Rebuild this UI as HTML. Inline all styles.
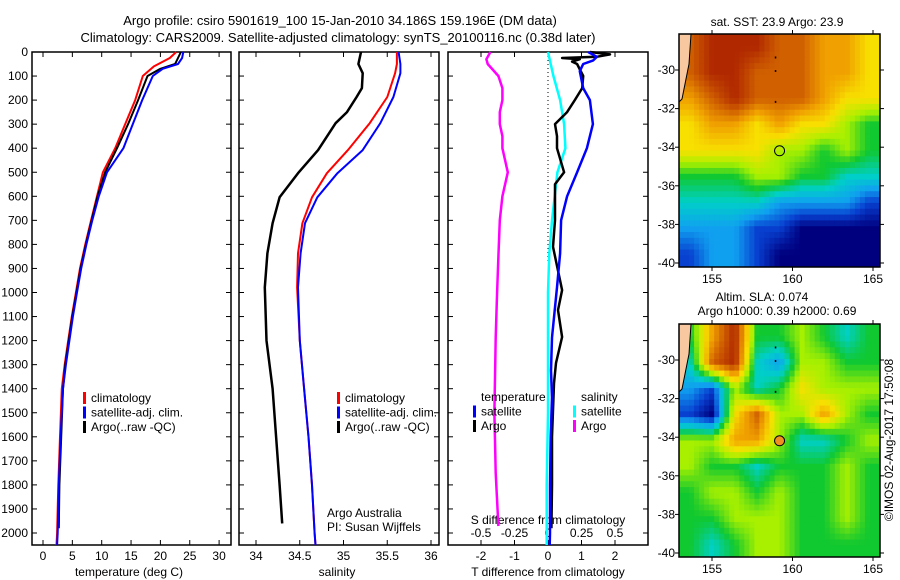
<!DOCTYPE html>
<html><head><meta charset="utf-8"><style>
html,body{margin:0;padding:0;background:#fff;}
svg{display:block;font-family:"Liberation Sans",sans-serif;}
text{fill:#000;}
</style></head><body>
<svg id="fig" width="900" height="580" viewBox="0 0 900 580" xmlns="http://www.w3.org/2000/svg">
<text x="340" y="25" font-size="13" text-anchor="middle">Argo profile: csiro 5901619_100 15-Jan-2010 34.186S 159.196E (DM data)</text>
<text x="338" y="42" font-size="13" text-anchor="middle">Climatology: CARS2009. Satellite-adjusted climatology: synTS_20100116.nc (0.38d later)</text>
<g id="plots"></g>
</svg>
<script>
// ---------- Profile data ----------
const depthTicks = [0,100,200,300,400,500,600,700,800,900,1000,1100,1200,1300,1400,1500,1600,1700,1800,1900,2000];
const tempTicks = [0,5,10,15,20,25,30];
const salTicks = [34,34.5,35,35.5,36];
const tdiffTicks = [-2,-1,0,1,2];
const sdiffTicks = [-0.5,-0.25,0,0.25,0.5];

const tClimDepth = [0,25,60,100,200,300,400,500,600,700,800,900,1000,1100,1200,1300,1400,1600,1800,2000,2050];
const tClimVal   = [22.7,21.6,18.9,17.0,15.7,14.0,12.3,10.2,9.2,8.2,7.2,6.3,5.6,4.9,4.3,3.7,3.2,2.9,2.6,2.4,2.3];
const tSatDepth  = [0,25,50,70,100,200,300,400,500,600,700,800,900,1000,1100,1200,1300,1400,1600,1800,2000,2050];
const tSatVal    = [23.9,23.7,23.0,20.4,18.7,16.9,15.3,13.7,10.9,9.5,8.4,7.4,6.5,5.8,5.1,4.5,3.9,3.4,3.0,2.7,2.5,2.4];
const tArgoDepth = [0,50,70,100,200,300,400,500,600,700,800,900,1000,1100,1200,1300,1400,1600,1800,1980];
const tArgoVal   = [23.5,22.5,20.0,17.8,16.2,14.5,12.6,10.6,9.3,8.3,7.3,6.4,5.7,5.0,4.4,3.8,3.4,3.1,2.8,2.7];

const sClimDepth = [0,50,88,187,296,408,504,604,712,837,979,1200,1400,1600,1800,2000,2050];
const sClimVal   = [35.61,35.61,35.59,35.50,35.30,35.05,34.81,34.64,34.53,34.48,34.47,34.50,34.55,34.60,34.64,34.67,34.68];
const sSatDepth  = [0,50,88,187,296,408,504,604,712,837,979,1200,1400,1600,1800,2000,2050];
const sSatVal    = [35.63,35.65,35.65,35.57,35.42,35.22,34.93,34.70,34.56,34.51,34.48,34.50,34.55,34.60,34.64,34.67,34.68];
const sArgoDepth = [0,50,88,150,187,250,296,408,504,604,712,837,979,1200,1400,1600,1800,1960];
const sArgoVal   = [35.20,35.17,35.22,35.21,35.15,35.04,34.91,34.71,34.48,34.27,34.19,34.13,34.10,34.12,34.19,34.23,34.27,34.30];

const dtSatDepth = [0,20,35,50,80,150,200,300,400,500,600,700,838,979,1187,1325,1437,1600,1800,2000,2050];
const dtSatVal   = [1.2,1.46,1.35,1.05,0.95,1.05,1.25,1.34,1.16,0.87,0.57,0.39,0.36,0.27,0.12,0.09,0.12,0.08,0.06,0.06,0.05];
const dtArgoDepth = [0,10,20,25,30,40,50,100,150,200,250,300,350,400,500,550,600,700,810,990,1073,1185,1293,1377,1600,1800,1980];
const dtArgoVal   = [1.25,1.85,1.45,0.42,0.95,0.72,0.87,1.05,1.02,0.8,0.57,0.21,0.27,0.27,0.48,0.21,0.21,0.21,0.15,0.42,0.3,0.42,0.24,0.18,0.12,0.12,0.1];
const dsSatDepth = [0,100,200,300,400,500,600,700,838,1000,1200,1500,1800,2000,2050];
const dsSatVal   = [0.0,0.04,0.09,0.12,0.13,0.07,0.05,0.03,0.01,0.0,0.0,0.0,-0.01,-0.01,-0.01];
const dsArgoDepth = [0,30,50,100,150,200,250,300,350,400,500,600,700,850,1000,1187,1500,1750,1971];
const dsArgoVal   = [-0.43,-0.46,-0.45,-0.37,-0.34,-0.34,-0.36,-0.36,-0.34,-0.34,-0.30,-0.34,-0.36,-0.37,-0.38,-0.39,-0.40,-0.39,-0.37];

// ---------- Map data (colour level 0..9 on a coarse grid, rows north->south) ----------
const sstGrid = [
 [8,9,9,9,8,8,7,7,6],
 [8,9,9,8,8,8,7,7,6],
 [7,8,9,8,8,8,7,6,6],
 [6,7,7,6,7,6,6,5,4],
 [6,6,6,6,5,5,4,5,4],
 [4,4,4,5,5,4,4,3,3],
 [3,3,3,3,2,2,2,2,1],
 [2,2,2,1,1,0,0,0,0],
 [1,2,2,1,0,0,0,0,0]
];
const slaGrid = [
 [4,7,9,4,4,5,4,3,4],
 [3,8,9,3,2,5,5,4,4],
 [2,1,5,3,4,6,5,5,5],
 [1,0,6,8,5,5,7,5,4],
 [5,5,7,7,5,3,3,4,5],
 [5,4,4,3,4,4,4,5,4],
 [4,5,5,4,5,4,4,5,4],
 [4,4,5,5,5,4,4,5,4],
 [4,3,4,5,5,4,4,4,4]
];
const lonTicks = [155,160,165];
const latTicks = [-30,-32,-34,-36,-38,-40];
const floatLon = 159.196, floatLat = -34.186;

// ---------- helpers ----------
const NS = "http://www.w3.org/2000/svg";
const root = document.getElementById('plots');
function mk(tag, attrs, parent){
  const e = document.createElementNS(NS, tag);
  for (const k in attrs) e.setAttribute(k, attrs[k]);
  (parent||root).appendChild(e);
  return e;
}
function txt(s, x, y, size, anchor, name, parent){
  const t = mk('text', {x:x, y:y, 'font-size':size, 'text-anchor':anchor||'start'}, parent);
  t.textContent = s;
  
  
  return t;
}
const TOP = 52, BOT = 545;
const yD = d => 52 + d*0.2405;
const xT = t => 43 + t*5.87;
const xS = s => 256 + (s-34)*87.5;
const xDT = v => 548 + v*33.5;
const xDS = v => 548 + v*134;

function frame(x0, x1, name){
  const r = mk('rect', {x:x0, y:TOP, width:x1-x0, height:BOT-TOP, fill:'#fff', stroke:'#000', 'stroke-width':1.5});
  
  
  depthTicks.forEach(d => {
    mk('line', {x1:x0, x2:x0+5, y1:yD(d), y2:yD(d), stroke:'#000'});
    mk('line', {x1:x1-5, x2:x1, y1:yD(d), y2:yD(d), stroke:'#000'});
  });
}
function xticks(vals, fx, labelY, fmt, name, top){
  vals.forEach(v => {
    const x = fx(v);
    mk('line', {x1:x, x2:x, y1:BOT-5, y2:BOT, stroke:'#000'});
    if (top) mk('line', {x1:x, x2:x, y1:TOP, y2:TOP+5, stroke:'#000'});
    txt(fmt(v), x, labelY, 12, 'middle', name);
  });
}
function profile(depths, vals, fx, color, name, w){
  let d = '';
  depths.forEach((dd,i) => { d += (i? 'L':'M') + fx(vals[i]).toFixed(1) + ',' + yD(dd).toFixed(1); });
  const p = mk('path', {d:d, fill:'none', stroke:color, 'stroke-width':w||2.5, 'stroke-linejoin':'round'});
  
  
}
function legend(x, y, items, groupName){
  const g = mk('g', {});
  
  
  items.forEach((it,i) => {
    if (it[1]) mk('rect', {x:x, y:y+i*14.5-10, width:3, height:12, fill:it[1]}, g);
    txt(it[0], x+8, y+i*14.5, 12, 'start', 'legend-entry', g);
  });
}

// ---------- Panel 1: temperature ----------
frame(32, 231, 'temperature-panel');
depthTicks.forEach(d => txt(String(d), 28, yD(d)+4, 12, 'end', 'depth-tick-label'));
xticks(tempTicks, xT, 560, v => String(v), 'temperature-tick-label', true);
txt('temperature (deg C)', 129, 576, 12, 'middle', 'x-axis-title-temperature');
profile(tClimDepth, tClimVal, xT, '#ff0000', 'temperature-climatology-line', 2);
profile(tArgoDepth, tArgoVal, xT, '#000000', 'temperature-argo-line', 2);
profile(tSatDepth, tSatVal, xT, '#0000ff', 'temperature-satellite-line', 2);
legend(83, 402, [['climatology','#ff0000'],['satellite-adj. clim.','#0000ff'],['Argo(..raw -QC)','#000000']], 'temperature-legend');

// ---------- Panel 2: salinity ----------
frame(239, 439, 'salinity-panel');
xticks(salTicks, xS, 560, v => String(v), 'salinity-tick-label', true);
txt('salinity', 337, 576, 12, 'middle', 'x-axis-title-salinity');
profile(sClimDepth, sClimVal, xS, '#ff0000', 'salinity-climatology-line', 2);
profile(sArgoDepth, sArgoVal, xS, '#000000', 'salinity-argo-line', 2.5);
profile(sSatDepth, sSatVal, xS, '#0000ff', 'salinity-satellite-line', 2);
legend(337, 402, [['climatology','#ff0000'],['satellite-adj. clim.','#0000ff'],['Argo(..raw -QC)','#000000']], 'salinity-legend');
txt('Argo Australia', 327, 517, 12, 'start', 'credit-argo-australia');
txt('PI: Susan Wijffels', 327, 531, 12, 'start', 'credit-pi');

// ---------- Panel 3: differences ----------
frame(448, 648, 'difference-panel');
mk('line', {x1:xDT(0), x2:xDT(0), y1:TOP, y2:yD(880), stroke:'#000', 'stroke-dasharray':'1,3'});
tdiffTicks.forEach(v => { mk('line', {x1:xDT(v), x2:xDT(v), y1:TOP, y2:TOP+5, stroke:'#000'}); });
xticks(tdiffTicks, xDT, 560, v => String(v), 'tdiff-tick-label', false);
sdiffTicks.forEach(v => txt(String(v), xDS(v), 537, 12, 'middle', 'sdiff-tick-label'));
txt('S difference from climatology', 548, 524, 12, 'middle', 'sdiff-axis-title');
txt('T difference from climatology', 548, 576, 12, 'middle', 'x-axis-title-tdiff');
profile(dsArgoDepth, dsArgoVal, xDS, '#ff00ff', 'salinity-argo-diff-line', 2.5);
profile(dsSatDepth, dsSatVal, xDS, '#00ffff', 'salinity-satellite-diff-line', 2.5);
profile(dtArgoDepth, dtArgoVal, xDT, '#000000', 'temperature-argo-diff-line', 2.5);
profile(dtSatDepth, dtSatVal, xDT, '#0000ff', 'temperature-satellite-diff-line', 2.5);
legend(473, 401, [['temperature',null],['satellite','#0000ff'],['Argo','#000000']], 'tdiff-legend');
legend(573, 401, [['salinity',null],['satellite','#00ffff'],['Argo','#ff00ff']], 'sdiff-legend');

// ---------- Maps ----------
const palette = [[0,0,127],[8,64,208],[16,160,240],[0,208,200],[16,200,48],[168,240,0],[248,224,0],[240,160,0],[208,96,0],[176,40,0]];
function levelColor(v){
  v = Math.max(0, Math.min(9, v));
  const i = Math.min(8, Math.floor(v)), f = v - i;
  const a = palette[i], b = palette[i+1];
  return 'rgb(' + [0,1,2].map(k => Math.round(a[k] + (b[k]-a[k])*f)).join(',') + ')';
}
function sampleGrid(grid, u, v){ // u,v in grid-centre coords
  const rows = grid.length, cols = grid[0].length;
  u = Math.max(0, Math.min(cols-1, u)); v = Math.max(0, Math.min(rows-1, v));
  const c0 = Math.min(cols-2, Math.floor(u)), r0 = Math.min(rows-2, Math.floor(v));
  const fu = u - c0, fv = v - r0;
  const a = grid[r0][c0], b = grid[r0][c0+1], c = grid[r0+1][c0], d = grid[r0+1][c0+1];
  return (a*(1-fu)+b*fu)*(1-fv) + (c*(1-fu)+d*fu)*fv;
}
const MX0 = 679, MX1 = 880;
const xLon = lon => 712 + (lon-155)*16.1;
const defsEl = mk('defs', {});
function map(grid, top, bottom, lat30y, name, titleLines, dotFill){
  const yLat = lat => lat30y + (-30 - lat)*19.3;
  const cp = mk('clipPath', {id:'clip'+name}, defsEl);
  mk('rect', {x:MX0, y:top, width:MX1-MX0, height:bottom-top}, cp);
  const g = mk('g', {'clip-path':'url(#clip'+name+')'});
  
  
  const rows = grid.length, cols = grid[0].length;
  const N = 40, W = MX1-MX0, H = bottom-top;
  const cw = W/N, ch = H/N;
  for (let r = 0; r < N; r++) for (let c = 0; c < N; c++) {
    const u = ((c+0.5)/N)*cols - 0.5, v = ((r+0.5)/N)*rows - 0.5;
    const cell = mk('rect', {x:(MX0+c*cw).toFixed(2), y:(top+r*ch).toFixed(2), width:(cw+0.6).toFixed(2), height:(ch+0.6).toFixed(2), fill:levelColor(sampleGrid(grid,u,v))}, g);
    
    
  }
  const land = mk('path', {d:`M${MX0},${top} L${MX0+12},${top} L${MX0+10},${top+30} L${MX0+3},${top+65} L${MX0},${top+68} Z`, fill:'#f8c8a0', stroke:'#000', 'stroke-width':1}, g);
  
  
  [[-29.3],[-30],[-31.6]].forEach(p => mk('rect', {x:xLon(158.9), y:yLat(p[0]), width:1.5, height:2, fill:'#000'}, g));
  const dot = mk('circle', {cx:xLon(floatLon), cy:yLat(floatLat), r:5, fill:dotFill, stroke:'#000', 'stroke-width':1});
  
  
  const fr = mk('rect', {x:MX0, y:top, width:MX1-MX0, height:bottom-top, fill:'none', stroke:'#000', 'stroke-width':1.5});
  
  
  latTicks.forEach(l => {
    mk('line', {x1:MX0-4, x2:MX0, y1:yLat(l), y2:yLat(l), stroke:'#000'});
    mk('line', {x1:MX1, x2:MX1+4, y1:yLat(l), y2:yLat(l), stroke:'#000'});
    txt(String(l), 675, yLat(l)+4, 12, 'end', 'latitude-tick-label');
  });
  lonTicks.forEach(l => {
    mk('line', {x1:xLon(l), x2:xLon(l), y1:top-4, y2:top, stroke:'#000'});
    mk('line', {x1:xLon(l), x2:xLon(l), y1:bottom, y2:bottom+4, stroke:'#000'});
    txt(String(l), xLon(l), bottom+16, 12, 'middle', 'longitude-tick-label');
  });
  titleLines.forEach(t => txt(t[0], t[1], t[2], 12, 'middle', 'map-title'));
}
map(sstGrid, 34, 267, 70, 'sst-map', [['sat. SST: 23.9 Argo: 23.9', 777, 26]], 'none');
map(slaGrid, 324, 557, 360, 'sla-map', [['Altim. SLA: 0.074', 762, 301],['Argo h1000: 0.39 h2000: 0.69', 777, 315]], '#f09020');
const cr = txt('©IMOS 02-Aug-2017 17:50:08', 0, 0, 12, 'middle', 'copyright-timestamp');
cr.setAttribute('transform', 'translate(893,440) rotate(-90)');
</script>
</body></html>
